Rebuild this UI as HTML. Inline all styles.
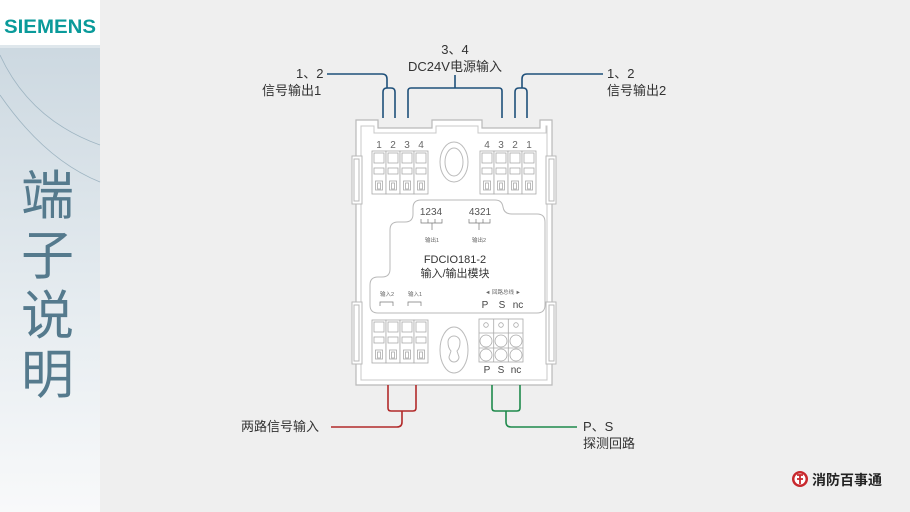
<!DOCTYPE html>
<html><head><meta charset="utf-8"><style>
html,body{margin:0;padding:0;width:910px;height:512px;overflow:hidden;background:#efefef}
svg{display:block}
text{font-family:"Liberation Sans","Noto Sans CJK SC",sans-serif}
</style></head><body>
<svg width="910" height="512" viewBox="0 0 910 512" xmlns="http://www.w3.org/2000/svg">
<defs>
<linearGradient id="lg" x1="0" y1="0" x2="0" y2="1">
<stop offset="0" stop-color="#c8d5de"/><stop offset="0.6" stop-color="#e6ecf0"/><stop offset="1" stop-color="#f8f9fa"/>
</linearGradient>
<g id="col" fill="none" stroke="#aaa" stroke-width="0.8">
<rect x="0" y="0" width="14" height="43" fill="#fff"/>
<rect x="2" y="2" width="10" height="10"/>
<rect x="2" y="17" width="10" height="6"/>
<rect x="3.5" y="30" width="7" height="9"/>
<rect x="5.5" y="32" width="3" height="6"/>
</g>
</defs>
<rect x="0" y="0" width="910" height="512" fill="#efefef"/>
<rect x="0" y="0" width="100" height="512" fill="url(#lg)"/>
<rect x="0" y="0" width="100" height="45" fill="#fff"/>
<rect x="0" y="45" width="100" height="3" fill="#dfe7ec"/>
<text x="4" y="33" font-size="19" font-weight="bold" fill="#0a9a9a" textLength="92" lengthAdjust="spacingAndGlyphs">SIEMENS</text>
<path d="M0,55 Q30,120 100,145" stroke="#9fb5c2" stroke-width="0.8" fill="none"/>
<path d="M0,95 Q45,160 100,182" stroke="#9fb5c2" stroke-width="0.8" fill="none"/>
<g font-size="53" fill="#557a8d" font-family="'Noto Sans CJK SC',sans-serif">
<text x="21" y="214">端</text><text x="21" y="274">子</text><text x="21" y="334">说</text><text x="21" y="393">明</text>
</g>

<g fill="#fff" stroke="#b9b9b9" stroke-width="1.2">
<path d="M356,120 L378,120 L378,128 L432,128 L432,120 L482,120 L482,128 L540,128 L540,120 L552,120 L552,385 L356,385 Z"/>
</g>
<path d="M361,126 L374,126 L374,133 L436,133 L436,126 L478,126 L478,133 L546,133 L546,126 L547,126 L547,380 L361,380 Z" fill="none" stroke="#c8c8c8" stroke-width="1"/>
<g fill="#fff" stroke="#b9b9b9" stroke-width="1">
<rect x="352" y="156" width="10" height="48"/><rect x="354" y="159" width="5" height="42" fill="none"/>
<rect x="352" y="302" width="10" height="62"/><rect x="354" y="305" width="5" height="56" fill="none"/>
<rect x="546" y="156" width="10" height="48"/><rect x="549" y="159" width="5" height="42" fill="none"/>
<rect x="546" y="302" width="10" height="62"/><rect x="549" y="305" width="5" height="56" fill="none"/>
</g>
<use href="#col" x="372" y="151"/><use href="#col" x="386" y="151"/><use href="#col" x="400" y="151"/><use href="#col" x="414" y="151"/>
<use href="#col" x="480" y="151"/><use href="#col" x="494" y="151"/><use href="#col" x="508" y="151"/><use href="#col" x="522" y="151"/>
<g font-size="10" fill="#666" text-anchor="middle">
<text x="379" y="148">1</text><text x="393" y="148">2</text><text x="407" y="148">3</text><text x="421" y="148">4</text>
<text x="487" y="148">4</text><text x="501" y="148">3</text><text x="515" y="148">2</text><text x="529" y="148">1</text>
</g>
<ellipse cx="454" cy="162" rx="14" ry="20" fill="#fff" stroke="#bbb"/>
<ellipse cx="454" cy="162" rx="9" ry="14" fill="none" stroke="#bbb"/>
<path d="M413,208 Q413,200 421,200 L495,200 Q502,200 503,207 Q504,214 512,214 L537,214 Q545,214 545,222 L545,305 Q545,313 537,313 L378,313 Q370,313 370,305 L370,285 Q370,277 378,277 L382,277 Q390,277 390,269 L390,230 Q390,222 398,222 L405,222 Q413,222 413,214 Z" fill="#fff" stroke="#b9b9b9" stroke-width="1"/>
<g font-size="10" fill="#555" text-anchor="middle">
<text x="431" y="215">1234</text><text x="480" y="215">4321</text>
</g>
<path d="M421,219 L421,223 L442,223 L442,219 M428,219 L428,223 M435,219 L435,223 M432,223 L432,230 M469,219 L469,223 L490,223 L490,219 M476,219 L476,223 M483,219 L483,223 M479,223 L479,230" stroke="#777" stroke-width="0.7" fill="none"/>
<g font-size="5.5" fill="#666" text-anchor="middle"><text x="432" y="242">输出1</text><text x="479" y="242">输出2</text>
<text x="387" y="296">输入2</text><text x="415" y="296">输入1</text><text x="503" y="294">◄ 回路总线 ►</text></g>
<g font-size="11" fill="#333" text-anchor="middle"><text x="455" y="263">FDCIO181-2</text><text x="455" y="277">输入/输出模块</text></g>
<path d="M380,306 L380,302 L393,302 L393,306 M408,306 L408,302 L421,302 L421,306" stroke="#777" stroke-width="0.7" fill="none"/>
<g font-size="10" fill="#444" text-anchor="middle"><text x="485" y="308">P</text><text x="502" y="308">S</text><text x="518" y="308">nc</text></g>
<use href="#col" x="372" y="320"/><use href="#col" x="386" y="320"/><use href="#col" x="400" y="320"/><use href="#col" x="414" y="320"/>
<ellipse cx="454" cy="350" rx="14" ry="23" fill="#fff" stroke="#bbb"/>
<path d="M454,336 a6,6 0 0 1 6,6 q0,6 -3,9 l2,6 a5,5 0 0 1 -10,0 l2,-6 q-3,-3 -3,-9 a6,6 0 0 1 6,-6z" fill="none" stroke="#bbb"/>
<g fill="#fff" stroke="#aaa" stroke-width="0.8">
<rect x="479" y="319" width="44" height="43"/>
<path d="M493.7,319 V362 M508.3,319 V362 M479,333 H523 M479,348 H523" fill="none"/>
<circle cx="486" cy="325" r="2.3"/><circle cx="501" cy="325" r="2.3"/><circle cx="516" cy="325" r="2.3"/>
<circle cx="486" cy="341" r="6"/><circle cx="501" cy="341" r="6"/><circle cx="516" cy="341" r="6"/>
<circle cx="486" cy="355" r="6"/><circle cx="501" cy="355" r="6"/><circle cx="516" cy="355" r="6"/>
</g>
<g font-size="10" fill="#444" text-anchor="middle"><text x="487" y="373">P</text><text x="501" y="373">S</text><text x="516" y="373">nc</text></g>

<g fill="none" stroke-width="1.6">
<path d="M327,74 L382,74 Q387,74 387,79 L387,88 M383,118 L383,92 Q383,88 387,88 L391,88 Q395,88 395,92 L395,118" stroke="#1f507a"/>
<path d="M455,75 L455,88 M408,118 L408,91 Q408,88 411,88 L499,88 Q502,88 502,91 L502,118" stroke="#1f507a"/>
<path d="M603,74 L527,74 Q522,74 522,79 L522,88 M515,118 L515,92 Q515,88 519,88 L523,88 Q527,88 527,92 L527,118" stroke="#1f507a"/>
<path d="M388,385 L388,408 Q388,411 391,411 L413,411 Q416,411 416,408 L416,385 M402,411 L402,422 Q402,427 397,427 L331,427" stroke="#b22a2a"/>
<path d="M492,385 L492,408 Q492,411 495,411 L517,411 Q520,411 520,408 L520,385 M506,411 L506,422 Q506,427 511,427 L577,427" stroke="#1f8a4c"/>
</g>
<g font-size="13" fill="#333">
<text x="296" y="78">1、2</text><text x="262" y="95">信号输出1</text>
<text x="455" y="54" text-anchor="middle">3、4</text><text x="455" y="71" text-anchor="middle">DC24V电源输入</text>
<text x="607" y="78">1、2</text><text x="607" y="95">信号输出2</text>
<text x="241" y="431">两路信号输入</text>
<text x="583" y="431">P、S</text><text x="583" y="448">探测回路</text>
</g>
<circle cx="800" cy="479" r="8" fill="#c8282d"/>
<circle cx="800" cy="479" r="5.5" fill="#fff"/>
<path d="M797,475 h6 M800,475 v9 M797,479 h6" stroke="#c8282d" stroke-width="1.8"/>
<text x="812" y="485" font-size="14" font-weight="bold" fill="#222">消防百事通</text>
</svg>
</body></html>
